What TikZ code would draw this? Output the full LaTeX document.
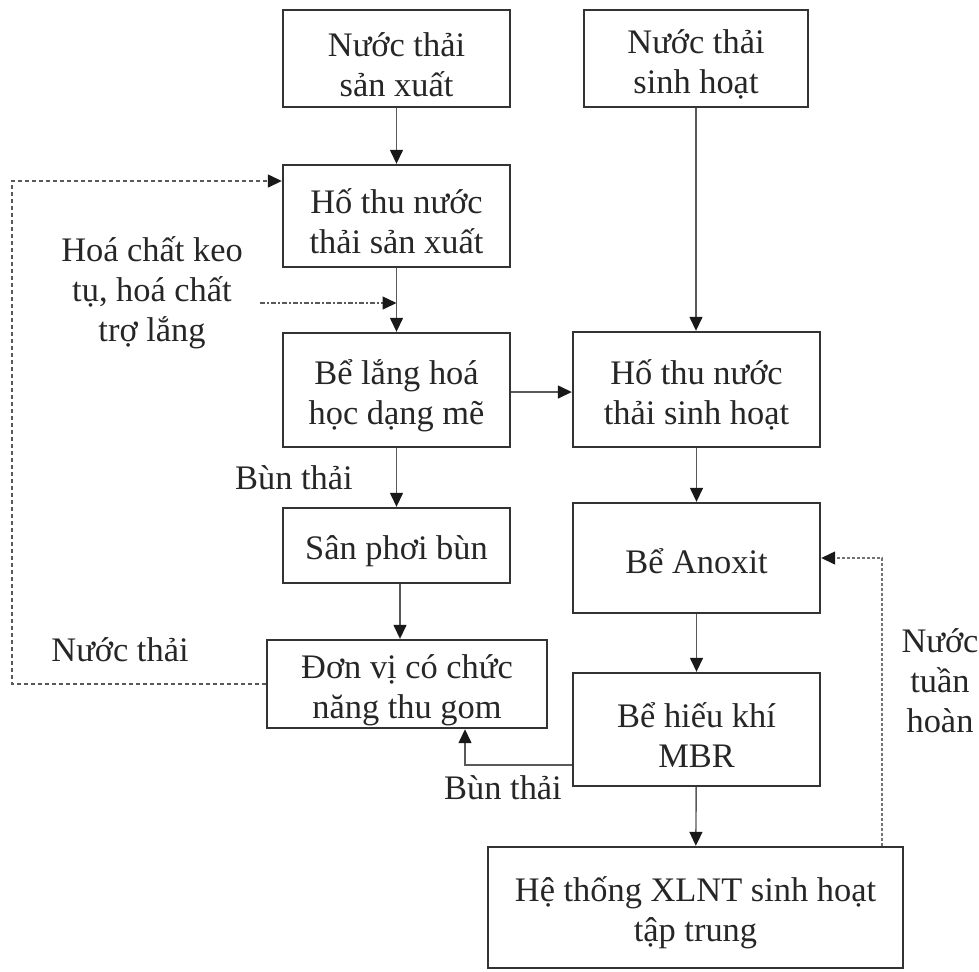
\documentclass[tikz,border=0pt]{standalone}
\usepackage{fontspec}
\setmainfont{Liberation Serif}
\usetikzlibrary{arrows.meta}
% strut that sets the height of the first text line in a box
\newcommand{\firstline}{\rule{0pt}{18pt}}
\begin{document}
\begin{tikzpicture}[x=0.5pt,y=-0.5pt,
  font=\fontsize{17.2}{20}\selectfont,
  box/.style={draw=black!80, line width=1.2pt, inner sep=0pt, align=center, text=black!85},
  flow/.style={draw=black!65, line width=0.7pt, -{Triangle[length=7pt,width=6.5pt,fill=black!90,color=black!90]}},
  back/.style={flow, dash pattern=on 2pt off 1.5pt},
  dose/.style={flow, dash pattern=on 2.5pt off 1pt on 1pt off 1pt},
  recyc/.style={flow, draw=black!55, dash pattern=on 1.5pt off 1pt},
  lbl/.style={align=center, inner sep=0pt, text=black!85}]
\useasboundingbox (0,0) rectangle (979,971);

% process units
\node[box, minimum width=113.5pt, minimum height=48.5pt] (b1) at (396.5,58.5) {\firstline Nước thải\\sản xuất};
\node[box, minimum width=112pt, minimum height=48.5pt] (b2) at (696,58.5) {\firstline Nước thải\\sinh hoạt};
\node[box, minimum width=113.5pt, minimum height=51pt] (b3) at (396.5,216) {\firstline Hố thu nước\\thải sản xuất};
\node[box, minimum width=113.5pt, minimum height=57pt] (b4) at (396.5,390) {\firstline Bể lắng hoá\\học dạng mẽ};
\node[box, minimum width=123.5pt, minimum height=57.5pt] (b5) at (696.5,389.5) {\firstline Hố thu nước\\thải sinh hoạt};
\node[box, minimum width=113.5pt, minimum height=37.5pt] (b6) at (396.5,545.5) {\firstline Sân phơi bùn};
\node[box, minimum width=123.5pt, minimum height=55pt] (b7) at (696.5,558) {\rule{0pt}{16pt}Bể Anoxit};
\node[box, minimum width=140pt, minimum height=44pt] (b8) at (407,684) {\firstline Đơn vị có chức\\năng thu gom};
\node[box, minimum width=123.5pt, minimum height=56.5pt] (b9) at (696.5,729.5) {\firstline Bể hiếu khí\\MBR};
\node[box, minimum width=207.5pt, minimum height=60.5pt] (b10) at (695.5,907.5) {\firstline Hệ thống XLNT sinh hoạt\\tập trung};

% labels
\node[lbl] (chemlbl) at (152,293) {Hoá chất keo\\tụ, hoá chất\\trợ lắng};
\node[lbl] (sludge1) at (294,478) {Bùn thải};
\node[lbl] (sludge2) at (503,788) {Bùn thải};
\node[lbl] (waterlbl) at (120,650) {Nước thải};
\node[lbl] (recyclbl) at (940,681) {Nước\\tuần\\hoàn};

% helper points for routed connectors
\coordinate (chem) at (260,303);
\coordinate (fb) at (12,181);
\coordinate (sl) at (465,765);
\coordinate (rc) at (882,558);

% main flow
\draw[flow] (b1) -- (b3);
\draw[flow] (b3) -- (b4);
\draw[flow] (b2.south) -- (b2.south |- b5.north);
\draw[flow] (b4.east |- 0,392) -- (b5.west |- 0,392);
\draw[flow] (b4) -- (b6);
\draw[flow] (b6.south -| 400,0) -- (b8.north -| 400,0);
\draw[flow] (b5) -- (b7);
\draw[flow] (b7) -- (b9);
\draw[flow] (b9) -- (b10);
\draw[flow] (sl -| b9.west) -- (sl) -- (sl |- b8.south);

% dosing and return lines
\draw[dose] (chem) -- (chem -| b3.south);
\draw[back] (b8.west) -| (fb) -- (fb -| b3.west);
\draw[recyc] (rc |- b10.north) -- (rc) -- (b7.east);
\end{tikzpicture}
\end{document}
